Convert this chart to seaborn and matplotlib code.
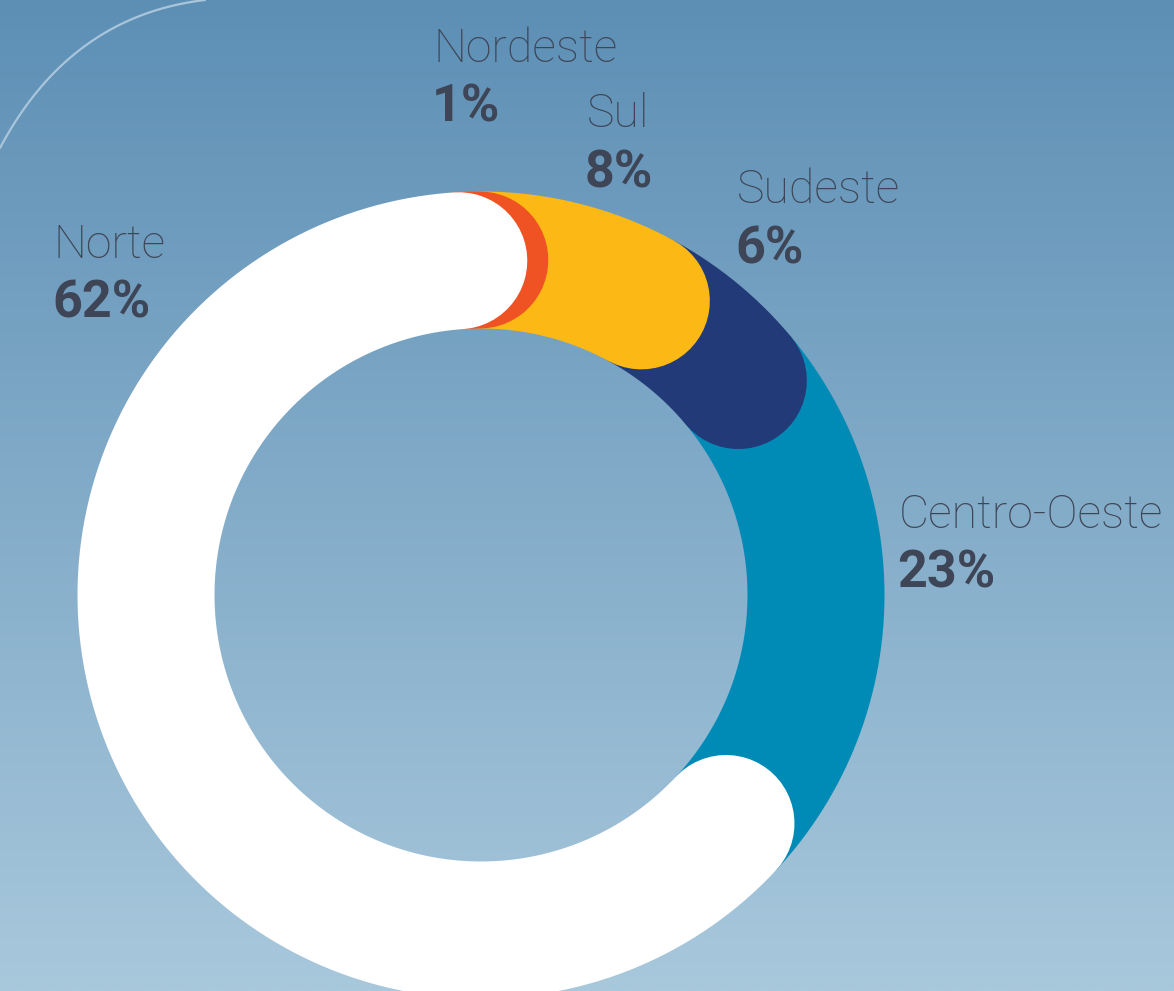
import numpy as np
import pandas as pd
import matplotlib
matplotlib.use("Agg")
import matplotlib.pyplot as plt
import seaborn as sns

# ---- data (clockwise from 12 o'clock) ----
regions = ["Nordeste", "Sul", "Sudeste", "Centro-Oeste", "Norte"]
shares = [1, 8, 6, 23, 62]
pct_labels = ["1%", "8%", "6%", "23%", "62%"]
colors = ["#f05323", "#fcb916", "#233a79", "#008bb7", "#ffffff"]

# ---- layout ----
W, H = 1174, 991
cx, cy = 481, 595          # ring centre (px)
r_mid, ring_w = 335, 137   # mid radius and ring thickness (px)
gap_deg = 3.8              # backward shift of each segment end
label_pos = {              # left x, baseline y of the name line
    "Nordeste": (434, 62),
    "Sul": (587, 127),
    "Sudeste": (737, 203),
    "Centro-Oeste": (899, 528),
    "Norte": (54, 258),
}
line_gap = 60
text_color = "#3e4556"

sns.set_theme(style="white")
plt.rcParams["font.family"] = ["Roboto", "DejaVu Sans"]

fig = plt.figure(figsize=(W / 100, H / 100), dpi=100)
ax = fig.add_axes([0, 0, 1, 1])
ax.set_xlim(0, W)
ax.set_ylim(H, 0)
ax.axis("off")

# background gradient
top = np.array([0x5d, 0x8f, 0xb5]) / 255
bot = np.array([0xa8, 0xc8, 0xdc]) / 255
t = np.linspace(0, 1, 256)[:, None, None]
grad = top * (1 - t) + bot * t
grad = np.repeat(grad, 2, axis=1)
ax.imshow(grad, extent=[0, W, H, 0], aspect="auto", zorder=0, interpolation="bilinear")

# decorative thin curve top-left
tt = np.linspace(0, 1, 100)
p0, p1, p2 = np.array([0, 148]), np.array([70, 16]), np.array([205, 0])
bez = ((1 - tt) ** 2)[:, None] * p0 + (2 * (1 - tt) * tt)[:, None] * p1 + (tt ** 2)[:, None] * p2
ax.plot(bez[:, 0], bez[:, 1], color="#a9c5db", lw=1.6, zorder=1)

# ring segments
cum = np.cumsum(shares)
ends = cum / cum[-1] * 360 - gap_deg
starts = np.concatenate([[ends[-1] - 360], ends[:-1]])
lw_pt = ring_w * 72 / 100
n = len(regions)
draw_order = list(range(n - 2, -1, -1)) + [n - 1]
for z, i in enumerate(draw_order):
    a = np.deg2rad(np.linspace(starts[i], ends[i], 300))
    df = pd.DataFrame({"x": cx + r_mid * np.sin(a), "y": cy - r_mid * np.cos(a)})
    sns.lineplot(data=df, x="x", y="y", sort=False, estimator=None, ax=ax,
                 color=colors[i], linewidth=lw_pt, solid_capstyle="round",
                 legend=False, zorder=2 + z)

ax.set_xlim(0, W)
ax.set_ylim(H, 0)
ax.set_xlabel("")
ax.set_ylabel("")

# labels
for name, pct in zip(regions, pct_labels):
    x, y = label_pos[name]
    ax.text(x, y, name, fontsize=33.5, fontweight="light", color=text_color,
            ha="left", va="baseline", zorder=10)
    ax.text(x - 2, y + line_gap, pct, fontsize=37.5, fontweight="bold", color=text_color,
            ha="left", va="baseline", zorder=10)

fig.savefig("out.png", dpi=100)
